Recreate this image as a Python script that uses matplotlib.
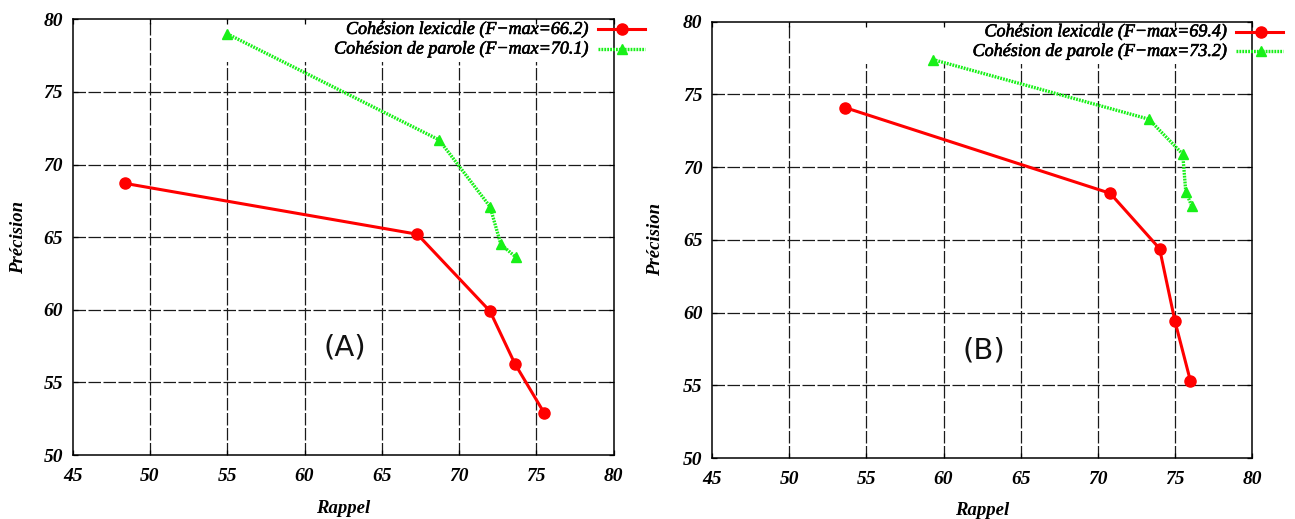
import matplotlib
matplotlib.use("Agg")
import matplotlib.pyplot as plt
import matplotlib.patheffects as pe
from matplotlib.patches import Rectangle
from matplotlib.lines import Line2D

# Recall / precision curves for two segmentation set-ups
panels = ["(A)", "(B)"]

lex_rappel_A = [48.4, 67.3, 72.0, 73.6, 75.5]
lex_precision_A = [68.7, 65.2, 59.9, 56.3, 52.9]
par_rappel_A = [55.0, 68.7, 72.0, 72.7, 73.7]
par_precision_A = [79.0, 71.7, 67.1, 64.5, 63.6]

lex_rappel_B = [53.6, 70.8, 74.0, 75.0, 76.0]
lex_precision_B = [74.1, 68.2, 64.4, 59.4, 55.3]
par_rappel_B = [59.3, 73.3, 75.5, 75.7, 76.1]
par_precision_B = [77.4, 73.3, 70.9, 68.3, 67.3]

fmax_lex = [66.2, 69.4]
fmax_par = [70.1, 73.2]

x_ticks = [45, 50, 55, 60, 65, 70, 75, 80]
y_ticks = [50, 55, 60, 65, 70, 75, 80]

RED = "#ff0000"
GREEN = "#18f018"
SERIF = ["Liberation Serif", "DejaVu Serif"]

plt.rcParams["lines.scale_dashes"] = False

fig = plt.figure(figsize=(12.95, 5.19), dpi=100)
axes_rects = [
    [0.0561, 0.1233, 0.4178, 0.8395],
    [0.5499, 0.1175, 0.4170, 0.8407],
]
label_pos = [(-0.085, -0.103), (-0.090, -0.101)]

data = [
    (lex_rappel_A, lex_precision_A, par_rappel_A, par_precision_A),
    (lex_rappel_B, lex_precision_B, par_rappel_B, par_precision_B),
]

heavy = [pe.withStroke(linewidth=0.45, foreground="black")]

for i, rect in enumerate(axes_rects):
    ax = fig.add_axes(rect)
    lr, lp, pr, pp = data[i]

    ax.set_xlim(x_ticks[0], x_ticks[-1])
    ax.set_ylim(y_ticks[0], y_ticks[-1])
    ax.set_xticks(x_ticks)
    ax.set_yticks(y_ticks)

    # dashed grid
    for xv in x_ticks[1:-1]:
        ax.axvline(xv, color="#1a1a1a", lw=0.9, dashes=(9, 1.8), zorder=0.5)
    for yv in y_ticks[1:-1]:
        ax.axhline(yv, color="#1a1a1a", lw=0.9, dashes=(9, 1.8), zorder=0.5)

    # opaque key area
    ax.add_patch(Rectangle((0.214, 0.902), 0.786, 0.092, transform=ax.transAxes,
                           facecolor="white", edgecolor="none", zorder=1))

    ax.plot(lr, lp, color=RED, lw=2.2, marker="o", ms=8, zorder=3)
    ax.plot(pr, pp, color=GREEN, lw=2.4, dashes=(1.3, 0.8), marker="^", ms=7.5,
            zorder=3)

    for sp in ax.spines.values():
        sp.set_linewidth(1.1)
        sp.set_color("black")
    ax.tick_params(direction="in", top=True, right=True, length=3.5, width=0.9,
                   pad=7)
    ax.tick_params(axis="x", pad=9)
    for lab in ax.get_xticklabels() + ax.get_yticklabels():
        lab.set_fontfamily(SERIF)
        lab.set_fontweight("bold")
        lab.set_fontstyle("italic")
        lab.set_fontsize(14)

    ax.set_xlabel("Rappel", fontfamily=SERIF, fontweight="bold",
                  fontstyle="italic", fontsize=13.5)
    ax.set_ylabel("Précision", fontfamily=SERIF, fontweight="bold",
                  fontstyle="italic", fontsize=13.5)
    lx, ly = label_pos[i]
    ax.xaxis.set_label_coords(0.5, ly)
    ax.yaxis.set_label_coords(lx, 0.5)

    # key
    entries = [
        (f"Cohésion lexicale (F\u2212max={fmax_lex[i]})", RED, "-", "o", 8, 2.2, 0.977),
        (f"Cohésion de parole (F\u2212max={fmax_par[i]})", GREEN, None, "^", 7.5, 2.4, 0.932),
    ]
    for text, col, ls, mk, ms, lw, yy in entries:
        ax.text(0.952, yy, text, transform=ax.transAxes, ha="right", va="center",
                fontfamily=SERIF, fontstyle="italic", fontsize=13, zorder=5,
                path_effects=heavy)
        kw = dict(color=col, lw=lw, transform=ax.transAxes, clip_on=False, zorder=5)
        if ls is None:
            kw["dashes"] = (1.3, 0.8)
        ax.add_line(Line2D([0.971, 1.058], [yy, yy], **kw))
        ax.add_line(Line2D([1.016], [yy], marker=mk, ms=ms, color=col, lw=0,
                           transform=ax.transAxes, clip_on=False, zorder=5))

    ax.text(62.6, 57.4, panels[i], ha="center", va="center",
            fontfamily="DejaVu Sans", fontsize=21, color="#111111", zorder=4)

fig.savefig("out.png", dpi=100, facecolor="white")
